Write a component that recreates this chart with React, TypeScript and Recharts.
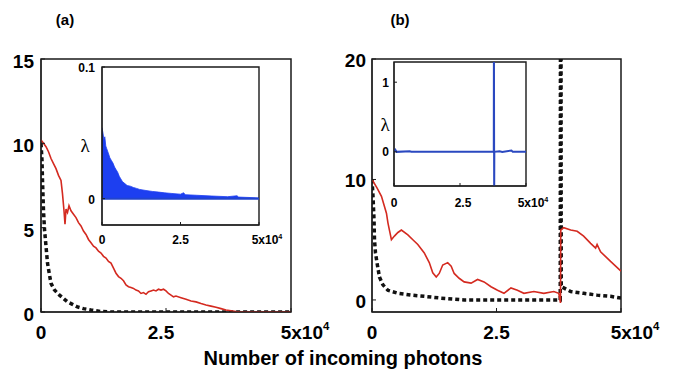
import React from "react";
import {
  ComposedChart,
  Line,
  Area,
  XAxis,
  YAxis,
  CartesianGrid,
  ReferenceLine,
  ReferenceArea,
} from "recharts";

// x values are in units of 10^4 incoming photons
const xTicks = [0, 2.5, 5];
const xTickLabels = ["0", "2.5", "5x10"];
const xTickExp = ["", "", "4"];

const aYTicks = [0, 5, 10, 15];
const bYTicks = [0, 10, 20];
const insetAYTicks = [0, 0.1];
const insetAYLabels = ["0", "0.1"];
const insetBYTicks = [0, 1];
const insetBYLabels = ["0", "1"];

// panel (a)
const aRed = [
  [0, 10.2], [0.05, 10.0], [0.1, 9.8], [0.15, 9.5], [0.2, 9.1], [0.25, 8.8],
  [0.3, 8.5], [0.35, 8.1], [0.4, 7.8], [0.43, 7.0], [0.46, 6.0], [0.48, 5.2],
  [0.5, 6.1], [0.53, 5.9], [0.56, 6.3], [0.6, 6.0], [0.65, 5.8], [0.7, 5.6],
  [0.75, 5.3], [0.8, 5.1], [0.85, 4.8], [0.9, 4.6], [0.95, 4.3], [1.0, 4.1],
  [1.05, 3.9], [1.1, 3.8], [1.15, 3.6], [1.2, 3.5], [1.25, 3.3], [1.3, 3.2],
  [1.35, 3.0], [1.4, 2.9], [1.45, 2.6], [1.5, 2.3], [1.55, 2.1], [1.6, 2.0],
  [1.65, 1.85], [1.7, 1.6], [1.75, 1.5], [1.8, 1.45], [1.85, 1.4], [1.9, 1.3],
  [1.95, 1.25], [2.0, 1.1], [2.05, 1.15], [2.1, 1.05], [2.15, 1.2], [2.2, 1.25],
  [2.25, 1.3], [2.3, 1.25], [2.35, 1.35], [2.4, 1.3], [2.45, 1.35], [2.5, 1.25],
  [2.55, 1.1], [2.6, 1.0], [2.65, 0.9], [2.7, 0.95], [2.8, 0.85], [2.9, 0.75],
  [3.0, 0.65], [3.1, 0.6], [3.2, 0.5], [3.3, 0.42], [3.4, 0.35], [3.5, 0.28],
  [3.6, 0.2], [3.7, 0.12], [3.8, 0.07], [3.9, 0.03], [4.0, 0], [4.5, 0], [5, 0],
];
const aBlack = [
  [0, 10], [0.02, 9.0], [0.03, 7.8], [0.05, 6.0], [0.07, 4.9], [0.1, 3.9],
  [0.13, 2.9], [0.17, 2.2], [0.2, 1.7], [0.27, 1.3], [0.37, 1.0], [0.45, 0.8],
  [0.53, 0.6], [0.63, 0.45], [0.73, 0.3], [0.85, 0.2], [1.0, 0.12], [1.2, 0.03],
  [1.4, 0], [5, 0],
];
const aInset = [
  [0, 0.054], [0.03, 0.05], [0.06, 0.045], [0.09, 0.047], [0.12, 0.04],
  [0.15, 0.038], [0.18, 0.036], [0.21, 0.034], [0.25, 0.031], [0.3, 0.029],
  [0.35, 0.027], [0.4, 0.024], [0.45, 0.022], [0.5, 0.02], [0.55, 0.017],
  [0.6, 0.015], [0.65, 0.013], [0.7, 0.012], [0.8, 0.01], [0.9, 0.0095],
  [1.0, 0.0085], [1.1, 0.0078], [1.2, 0.007], [1.4, 0.0062], [1.6, 0.0055],
  [1.8, 0.005], [2.0, 0.0044], [2.2, 0.004], [2.5, 0.0034], [2.6, 0.0045],
  [2.65, 0.003], [3.0, 0.0026], [3.5, 0.002], [4.0, 0.0015], [4.3, 0.0022],
  [4.35, 0.0012], [5, 0.0006],
];

// panel (b)
const bRed = [
  [0, 10], [0.1, 9.3], [0.19, 8.6], [0.29, 7.2], [0.32, 6.4], [0.35, 5.8],
  [0.39, 5.0], [0.45, 5.3], [0.52, 5.6], [0.59, 5.8], [0.72, 5.4], [0.82, 5.0],
  [0.92, 4.6], [1.05, 3.9], [1.15, 3.1], [1.22, 2.25], [1.29, 1.9], [1.35, 2.2],
  [1.42, 2.9], [1.52, 3.1], [1.59, 2.8], [1.65, 2.2], [1.75, 1.8], [1.85, 1.5],
  [1.99, 1.4], [2.12, 1.7], [2.25, 1.5], [2.39, 1.1], [2.52, 0.8], [2.65, 0.55],
  [2.79, 1.0], [2.92, 0.8], [3.05, 0.55], [3.25, 0.7], [3.45, 0.55], [3.65, 0.7],
  [3.75, 0.55], [3.785, -0.25], [3.79, 5.8], [3.85, 6.0], [3.99, 5.8],
  [4.12, 5.7], [4.25, 5.3], [4.39, 4.7], [4.49, 4.3], [4.52, 4.6], [4.59, 4.0],
  [4.79, 3.2], [5, 2.4],
];
const bBlack = [
  [0, 10], [0.02, 8.6], [0.04, 6.7], [0.05, 5.0], [0.07, 3.9], [0.1, 3.1],
  [0.15, 1.9], [0.22, 1.25], [0.32, 0.8], [0.52, 0.55], [0.79, 0.4], [1.05, 0.3],
  [1.39, 0.15], [1.85, 0], [3.78, 0], [3.785, 24], [3.795, 24], [3.8, 1.1],
  [3.85, 1.0], [3.99, 0.7], [4.25, 0.55], [4.52, 0.4], [4.79, 0.3], [5, 0.15],
];
const bInset = [
  [0, 0], [0.05, 0.03], [0.1, 0], [0.6, 0.01], [0.65, 0], [3.78, 0],
  [3.785, 1.6], [3.795, -0.6], [3.8, 0], [4.0, 0.01], [4.1, 0], [4.45, 0.02],
  [4.5, 0], [5, 0],
];

const pts = (rows: number[][]) => rows.map(([x, y]) => ({ x, y }));

const FONT = "Liberation Sans, Arial, Helvetica, sans-serif";
const FRAME = "#1a1a1a";
const RED = "#d42a20";
const BLACK = "#111";

function makeXTick(size: number, drop: number, midShift: number, lastShift: number) {
  return (props: any) => {
    const { x, y, payload } = props;
    const i = xTicks.indexOf(payload.value);
    const shift = i === 2 ? lastShift : i === 1 ? midShift : 0;
    return (
      <text
        x={x + shift}
        y={y + drop}
        textAnchor="middle"
        fontSize={size}
        fontWeight="bold"
        fontFamily={FONT}
        fill="#000"
      >
        <tspan>{xTickLabels[i]}</tspan>
        {xTickExp[i] ? (
          <tspan dy={-size * 0.45} fontSize={size * 0.6}>
            {xTickExp[i]}
          </tspan>
        ) : null}
      </text>
    );
  };
}

function makeYTick(size: number, dy: number, ticks: number[], labels: string[]) {
  return (props: any) => {
    const { x, y, payload } = props;
    const i = ticks.indexOf(payload.value);
    return (
      <text
        x={x}
        y={y + dy}
        textAnchor="end"
        fontSize={size}
        fontWeight="bold"
        fontFamily={FONT}
        fill="#000"
      >
        {labels[i]}
      </text>
    );
  };
}

const pos = (left: number, top: number): React.CSSProperties => ({
  position: "absolute",
  left,
  top,
});

export default function App() {
  return (
    <div
      style={{
        position: "absolute",
        left: 0,
        top: 0,
        width: 678,
        height: 377,
        background: "#fff",
        overflow: "hidden",
      }}
    >
      {/* panel (a) main */}
      <div style={pos(0, 0)}>
        <ComposedChart width={340} height={377} margin={{ top: 59, right: 49, bottom: 0, left: 0 }}>
          <XAxis
            type="number"
            dataKey="x"
            domain={[0, 5]}
            ticks={xTicks}
            interval={0}
            allowDataOverflow
            height={65}
            stroke={FRAME}
            tickSize={-4}
            tickMargin={4}
            tick={makeXTick(19, 27, -5, 14)}
          />
          <YAxis
            type="number"
            domain={[0, 15]}
            ticks={aYTicks}
            interval={0}
            allowDataOverflow
            width={41}
            stroke={FRAME}
            tickSize={-4}
            tickMargin={11}
            tick={makeYTick(19, 9, aYTicks, aYTicks.map(String))}
          />
          <ReferenceArea x1={0} x2={5} y1={0} y2={15} fill="none" stroke={FRAME} strokeWidth={1.5} strokeOpacity={1} />
          <Line
            data={pts(aBlack)}
            dataKey="y"
            type="linear"
            stroke={BLACK}
            strokeWidth={3.5}
            strokeDasharray="4 3"
            dot={false}
            isAnimationActive={false}
          />
          <Line
            data={pts(aRed)}
            dataKey="y"
            type="linear"
            stroke={RED}
            strokeWidth={1.6}
            dot={false}
            isAnimationActive={false}
          />
        </ComposedChart>
      </div>

      {/* panel (b) main */}
      <div style={pos(330, 0)}>
        <ComposedChart width={348} height={377} margin={{ top: 59, right: 57, bottom: 0, left: 0 }}>
          <XAxis
            type="number"
            dataKey="x"
            domain={[0, 5]}
            ticks={xTicks}
            interval={0}
            allowDataOverflow
            height={65}
            stroke={FRAME}
            tickSize={-4}
            tickMargin={4}
            tick={makeXTick(19, 27, 0, 14)}
          />
          <YAxis
            type="number"
            domain={[-1, 20]}
            ticks={bYTicks}
            interval={0}
            allowDataOverflow
            width={42}
            stroke={FRAME}
            tickSize={-4}
            tickMargin={10}
            tick={makeYTick(19, 8, bYTicks, bYTicks.map(String))}
          />
          <ReferenceArea x1={0} x2={5} y1={-1} y2={20} fill="none" stroke={FRAME} strokeWidth={1.5} strokeOpacity={1} />
          <Line
            data={pts(bBlack)}
            dataKey="y"
            type="linear"
            stroke={BLACK}
            strokeWidth={3.5}
            strokeDasharray="4 3"
            dot={false}
            isAnimationActive={false}
          />
          <Line
            data={pts(bRed)}
            dataKey="y"
            type="linear"
            stroke={RED}
            strokeWidth={1.6}
            dot={false}
            isAnimationActive={false}
          />
        </ComposedChart>
      </div>

      {/* inset (a) */}
      <div style={pos(62, 57)}>
        <ComposedChart width={230} height={195} margin={{ top: 10, right: 33, bottom: 0, left: 0 }}>
          <CartesianGrid horizontal={false} vertical={false} fill="#fff" />
          <XAxis
            type="number"
            dataKey="x"
            domain={[0, 5]}
            ticks={xTicks}
            interval={0}
            allowDataOverflow
            height={27}
            stroke={FRAME}
            tickSize={-3}
            tickMargin={3}
            tick={makeXTick(12, 19, 0, 8)}
          />
          <YAxis
            type="number"
            domain={[-0.02, 0.1]}
            ticks={insetAYTicks}
            interval={0}
            allowDataOverflow
            width={40}
            stroke={FRAME}
            tickSize={-3}
            tickMargin={10}
            tick={makeYTick(12, 5, insetAYTicks, insetAYLabels)}
          />
          <Area
            data={pts(aInset)}
            dataKey="y"
            type="linear"
            baseValue={0}
            stroke="#1d3ff0"
            strokeWidth={0.8}
            fill="#1d3ff0"
            fillOpacity={1}
            dot={false}
            isAnimationActive={false}
          />
          <ReferenceLine y={0} stroke="#2244cc" strokeWidth={2} />
          <ReferenceArea x1={0} x2={5} y1={-0.02} y2={0.1} fill="none" stroke={FRAME} strokeWidth={1.4} strokeOpacity={1} />
        </ComposedChart>
      </div>

      {/* inset (b) */}
      <div style={pos(365, 52)}>
        <ComposedChart width={185} height={165} margin={{ top: 10, right: 24, bottom: 0, left: 0 }}>
          <CartesianGrid horizontal={false} vertical={false} fill="#fff" />
          <XAxis
            type="number"
            dataKey="x"
            domain={[0, 5]}
            ticks={xTicks}
            interval={0}
            allowDataOverflow
            height={31}
            stroke={FRAME}
            tickSize={-3}
            tickMargin={3}
            tick={makeXTick(12, 21, 3, 7)}
          />
          <YAxis
            type="number"
            domain={[-0.49, 1.29]}
            ticks={insetBYTicks}
            interval={0}
            allowDataOverflow
            width={29}
            stroke={FRAME}
            tickSize={-3}
            tickMargin={8}
            tick={makeYTick(12, 4.5, insetBYTicks, insetBYLabels)}
          />
          <ReferenceArea x1={0} x2={5} y1={-0.49} y2={1.29} fill="none" stroke={FRAME} strokeWidth={1.4} strokeOpacity={1} />
          <Line
            data={pts(bInset)}
            dataKey="y"
            type="linear"
            stroke="#2a48c0"
            strokeWidth={2}
            dot={false}
            isAnimationActive={false}
          />
        </ComposedChart>
      </div>

      {/* panel letters, inset y labels, shared x title */}
      <svg
        width={678}
        height={377}
        style={{ position: "absolute", left: 0, top: 0, pointerEvents: "none" }}
      >
        <text x={65} y={25} textAnchor="middle" fontSize={15} fontWeight="bold" fontFamily={FONT}>
          (a)
        </text>
        <text x={400} y={25} textAnchor="middle" fontSize={15} fontWeight="bold" fontFamily={FONT}>
          (b)
        </text>
        <text x={85} y={152} textAnchor="middle" fontSize={19} fontFamily="Liberation Serif, DejaVu Serif, serif">
          λ
        </text>
        <text x={385} y={131} textAnchor="middle" fontSize={19} fontFamily="Liberation Serif, DejaVu Serif, serif">
          λ
        </text>
        <text x={343} y={365} textAnchor="middle" fontSize={20} fontWeight="bold" fontFamily={FONT}>
          Number of incoming photons
        </text>
      </svg>
    </div>
  );
}
